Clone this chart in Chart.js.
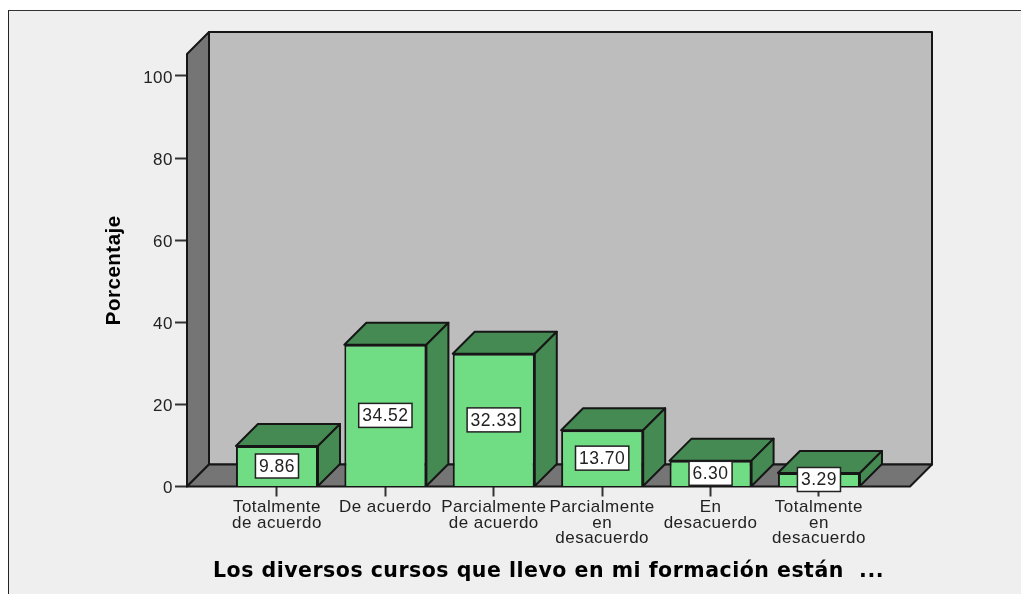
<!DOCTYPE html>
<html><head><meta charset="utf-8">
<style>html,body{margin:0;padding:0;background:#fff;overflow:hidden}
#w{position:absolute;left:0;top:0;width:1021px;height:594px}
#p{position:absolute;left:8px;top:10px;right:0;bottom:0;background:#efefef;border-left:1px solid #222;border-top:1px solid #333}
canvas{position:absolute;left:0;top:0}</style>
<script src="https://cdn.jsdelivr.net/npm/chart.js@4"></script>
</head><body><div id="w"><div id="p"></div><canvas id="c" width="1021" height="594"></canvas></div>
<script>
const categories=[["Totalmente","de acuerdo"],["De acuerdo"],["Parcialmente","de acuerdo"],["Parcialmente","en","desacuerdo"],["En","desacuerdo"],["Totalmente","en","desacuerdo"]];
const porcentaje=[9.86,34.52,32.33,13.70,6.30,3.29];
const yTicks=[0,20,40,60,80,100];
const xTitle="Los diversos cursos que llevo en mi formación están  ...";
const yTitle="Porcentaje";
const D=22, INK="#161616";
const FRONT="#70dc84", DEEP="#458a52", WALL="#757575", BACK="#bdbdbd";
function poly(ctx,pts,fill){ctx.beginPath();pts.forEach((p,i)=>i?ctx.lineTo(p[0],p[1]):ctx.moveTo(p[0],p[1]));ctx.closePath();ctx.fillStyle=fill;ctx.fill();ctx.stroke();}
const box3d={id:"box3d",
 beforeDraw(chart){chart.ctx.letterSpacing="0.5px";},
 beforeDatasetsDraw(chart){
  const {ctx,chartArea:a}=chart;
  ctx.save();ctx.strokeStyle=INK;ctx.lineWidth=2;ctx.lineJoin="round";
  poly(ctx,[[a.left+D,a.top-D],[a.right+D,a.top-D],[a.right+D,a.bottom-D],[a.left+D,a.bottom-D]],BACK);
  poly(ctx,[[a.left,a.top],[a.left+D,a.top-D],[a.left+D,a.bottom-D],[a.left,a.bottom]],WALL);
  poly(ctx,[[a.left,a.bottom],[a.left+D,a.bottom-D],[a.right+D,a.bottom-D],[a.right,a.bottom]],WALL);
  chart.getDatasetMeta(0).data.forEach(b=>{
   const l=b.x-b.width/2,r=b.x+b.width/2;
   poly(ctx,[[l,b.y],[l+D,b.y-D],[r+D,b.y-D],[r,b.y]],DEEP);
   poly(ctx,[[r,b.y],[r+D,b.y-D],[r+D,b.base-D],[r,b.base]],DEEP);
  });
  ctx.restore();
 },
 afterDraw(chart){
  const {ctx}=chart;const meta=chart.getDatasetMeta(0);
  ctx.save();ctx.font="17.5px 'Liberation Sans'";ctx.textAlign="center";ctx.textBaseline="middle";
  meta.data.forEach((b,i)=>{
   const t=porcentaje[i].toFixed(2);const w=ctx.measureText(t).width+7,h=24,cy=(b.y+b.base)/2;
   ctx.fillStyle="#fff";ctx.strokeStyle="#222";ctx.lineWidth=1.5;
   ctx.fillRect(b.x-w/2,cy-h/2,w,h);ctx.strokeRect(b.x-w/2,cy-h/2,w,h);
   ctx.fillStyle="#222";ctx.fillText(t,b.x,cy+1);
  });
  ctx.restore();
 }};
new Chart(document.getElementById("c"),{type:"bar",
 data:{datasets:[{label:yTitle,data:porcentaje.map((v,i)=>({x:i,y:v})),backgroundColor:FRONT,borderColor:INK,borderWidth:2,barPercentage:0.757,categoryPercentage:1}]},
 plugins:[box3d],
 options:{responsive:false,animation:false,devicePixelRatio:1,
  layout:{padding:{left:0,top:54,right:111,bottom:0}},
  plugins:{legend:{display:false},tooltip:{enabled:false},title:{display:false}},
  scales:{
   x:{type:"linear",min:-0.83,max:5.84,offset:false,
    afterFit(s){s.height=107.5;},
    afterBuildTicks(s){s.ticks=categories.map((c,i)=>({value:i}));},
    border:{display:false},
    grid:{offset:false,drawOnChartArea:false,drawTicks:true,tickLength:10,tickColor:"#333",tickWidth:2},
    ticks:{autoSkip:false,maxRotation:0,minRotation:0,padding:3,color:"#222",font:{family:"'Liberation Sans'",size:17,lineHeight:0.92},callback:(v)=>categories[v]},
    title:{display:true,text:xTitle,color:"#000",font:{family:"'DejaVu Sans'",weight:"bold",size:20.5},padding:{top:0,bottom:10}}},
   y:{min:0,max:105.35,
    afterFit(s){s.width=187;},
    afterBuildTicks(s){s.ticks=yTicks.map(v=>({value:v}));},
    border:{display:false},
    grid:{drawOnChartArea:false,tickLength:12,tickColor:"#333",tickWidth:2},
    ticks:{padding:2,labelOffset:2,color:"#222",font:{family:"'Liberation Sans'",size:17}},
    title:{display:true,text:yTitle,color:"#000",font:{family:"'Liberation Sans'",weight:"bold",size:20.5},padding:{top:102,bottom:0}}}
  }}});
</script></body></html>
